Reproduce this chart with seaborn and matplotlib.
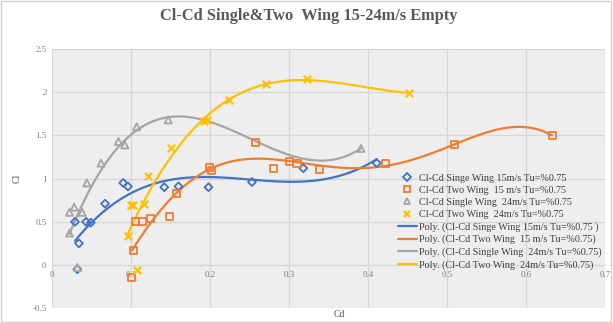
import matplotlib
matplotlib.use('Agg')
import matplotlib.pyplot as plt
import seaborn as sns
import numpy as np
from matplotlib.patches import Rectangle
from matplotlib.lines import Line2D

# Cl-Cd single wing 15 m/s
cd_s15 = [0.029, 0.034, 0.032, 0.043, 0.049, 0.067, 0.090, 0.096, 0.142, 0.160, 0.198, 0.253, 0.318, 0.411]
cl_s15 = [0.50, 0.25, -0.05, 0.50, 0.49, 0.71, 0.95, 0.91, 0.90, 0.91, 0.90, 0.96, 1.12, 1.18]
# Cl-Cd two wing 15 m/s
cd_t15 = [0.103, 0.101, 0.105, 0.114, 0.124, 0.149, 0.157, 0.199, 0.202, 0.257, 0.280, 0.301, 0.310, 0.338, 0.422, 0.510, 0.633]
cl_t15 = [0.17, -0.15, 0.50, 0.50, 0.54, 0.56, 0.83, 1.13, 1.09, 1.42, 1.12, 1.20, 1.18, 1.11, 1.18, 1.39, 1.50]
# Cl-Cd single wing 24 m/s
cd_s24 = [0.022, 0.022, 0.028, 0.038, 0.032, 0.044, 0.062, 0.084, 0.092, 0.107, 0.147, 0.391]
cl_s24 = [0.37, 0.61, 0.67, 0.61, -0.03, 0.95, 1.18, 1.43, 1.39, 1.60, 1.68, 1.35]
# Cl-Cd two wing 24 m/s
cd_t24 = [0.096, 0.100, 0.103, 0.116, 0.107, 0.122, 0.151, 0.192, 0.196, 0.224, 0.271, 0.323, 0.452]
cl_t24 = [0.34, 0.69, 0.69, 0.71, -0.06, 1.03, 1.35, 1.67, 1.68, 1.91, 2.10, 2.15, 1.99]

series_names = ['Cl-Cd Singe Wing 15m/s Tu=%0.75',
                'Cl-Cd Two Wing  15 m/s Tu=%0.75',
                'Cl-Cd Single Wing  24m/s Tu=%0.75',
                'Cl-Cd Two Wing  24m/s Tu=%0.75']
trend_names = ['Poly. (Cl-Cd Singe Wing 15m/s Tu=%0.75 )',
               'Poly. (Cl-Cd Two Wing  15 m/s Tu=%0.75)',
               'Poly. (Cl-Cd Single Wing  24m/s Tu=%0.75)',
               'Poly. (Cl-Cd Two Wing  24m/s Tu=%0.75)']
poly_order = [3, 6, 3, 3]
colors = ['#4472C4', '#ED7D31', '#A5A5A5', '#FFC000']
markers = ['D', 's', '^', 'x']

sns.set_style('white')
plt.rcParams['font.family'] = ['Liberation Serif', 'DejaVu Serif']

fig = plt.figure(figsize=(6.13, 3.23), dpi=100)
ax = fig.add_axes([0.085, 0.046, 0.902, 0.802])
ax.set_facecolor('#eeeeee')

data = [(cd_s15, cl_s15), (cd_t15, cl_t15), (cd_s24, cl_s24), (cd_t24, cl_t24)]
for i, (x, y) in enumerate(data):
    if markers[i] == 'x':
        sns.scatterplot(x=x, y=y, ax=ax, marker='x', color=colors[i], s=28, linewidth=1.6, zorder=4)
    else:
        sns.scatterplot(x=x, y=y, ax=ax, marker=markers[i], facecolor='none', edgecolor=colors[i],
                        s=26 if markers[i] != 'D' else 16, linewidth=1.3, zorder=4)
    sns.regplot(x=np.array(x), y=np.array(y), ax=ax, order=poly_order[i], scatter=False, ci=None,
                truncate=True, line_kws=dict(color=colors[i], lw=1.6, zorder=3))

ax.set_xlim(0, 0.7)
ax.set_ylim(-0.5, 2.5)
ax.set_xticks(np.arange(0, 0.71, 0.1))
ax.set_xticklabels(['0', '0.1', '0.2', '0.3', '0.4', '0.5', '0.6', '0.7'])
ax.set_yticks(np.arange(-0.5, 2.51, 0.5))
ax.set_yticklabels(['-0.5', '0', '0.5', '1', '1.5', '2', '2.5'])
ax.grid(True, color='#d6d6d6', lw=0.9)
ax.set_axisbelow(True)
for s in ['top', 'right', 'left']:
    ax.spines[s].set_visible(False)
ax.spines['bottom'].set_position(('data', 0))
ax.spines['bottom'].set_color('#d6d6d6')
ax.tick_params(length=0, labelsize=6.5, colors='#7f7f7f', pad=4)
ax.set_xlabel('Cd', fontsize=7, color='#595959')
ax.xaxis.set_label_coords(0.52, -0.006)
ax.set_ylabel('Cl', fontsize=7, color='#595959', labelpad=8)

fig.suptitle('Cl-Cd Single&Two  Wing 15-24m/s Empty', x=0.503, y=0.975, fontsize=11.8,
             color='#595959', fontweight='bold')

handles = []
for i in range(4):
    if markers[i] == 'x':
        handles.append(Line2D([], [], ls='none', marker='x', color=colors[i], ms=5, mew=1.6))
    else:
        handles.append(Line2D([], [], ls='none', marker=markers[i], mfc='none', mec=colors[i],
                              ms=5 if markers[i] != 'D' else 4, mew=1.3))
for i in range(4):
    handles.append(Line2D([], [], color=colors[i], lw=1.6))
ax.legend(handles, series_names + trend_names, loc='lower right', bbox_to_anchor=(1.005, 0.125),
          frameon=False, fontsize=7.3, handlelength=1.9, handletextpad=0.2, labelspacing=0.3,
          labelcolor='#404040', borderaxespad=0.2)

fig.patches.append(Rectangle((0.002, 0.003), 0.995, 0.994, transform=fig.transFigure,
                             fill=False, edgecolor='#d0d0d0', lw=1))

fig.savefig('out.png', dpi=100)
